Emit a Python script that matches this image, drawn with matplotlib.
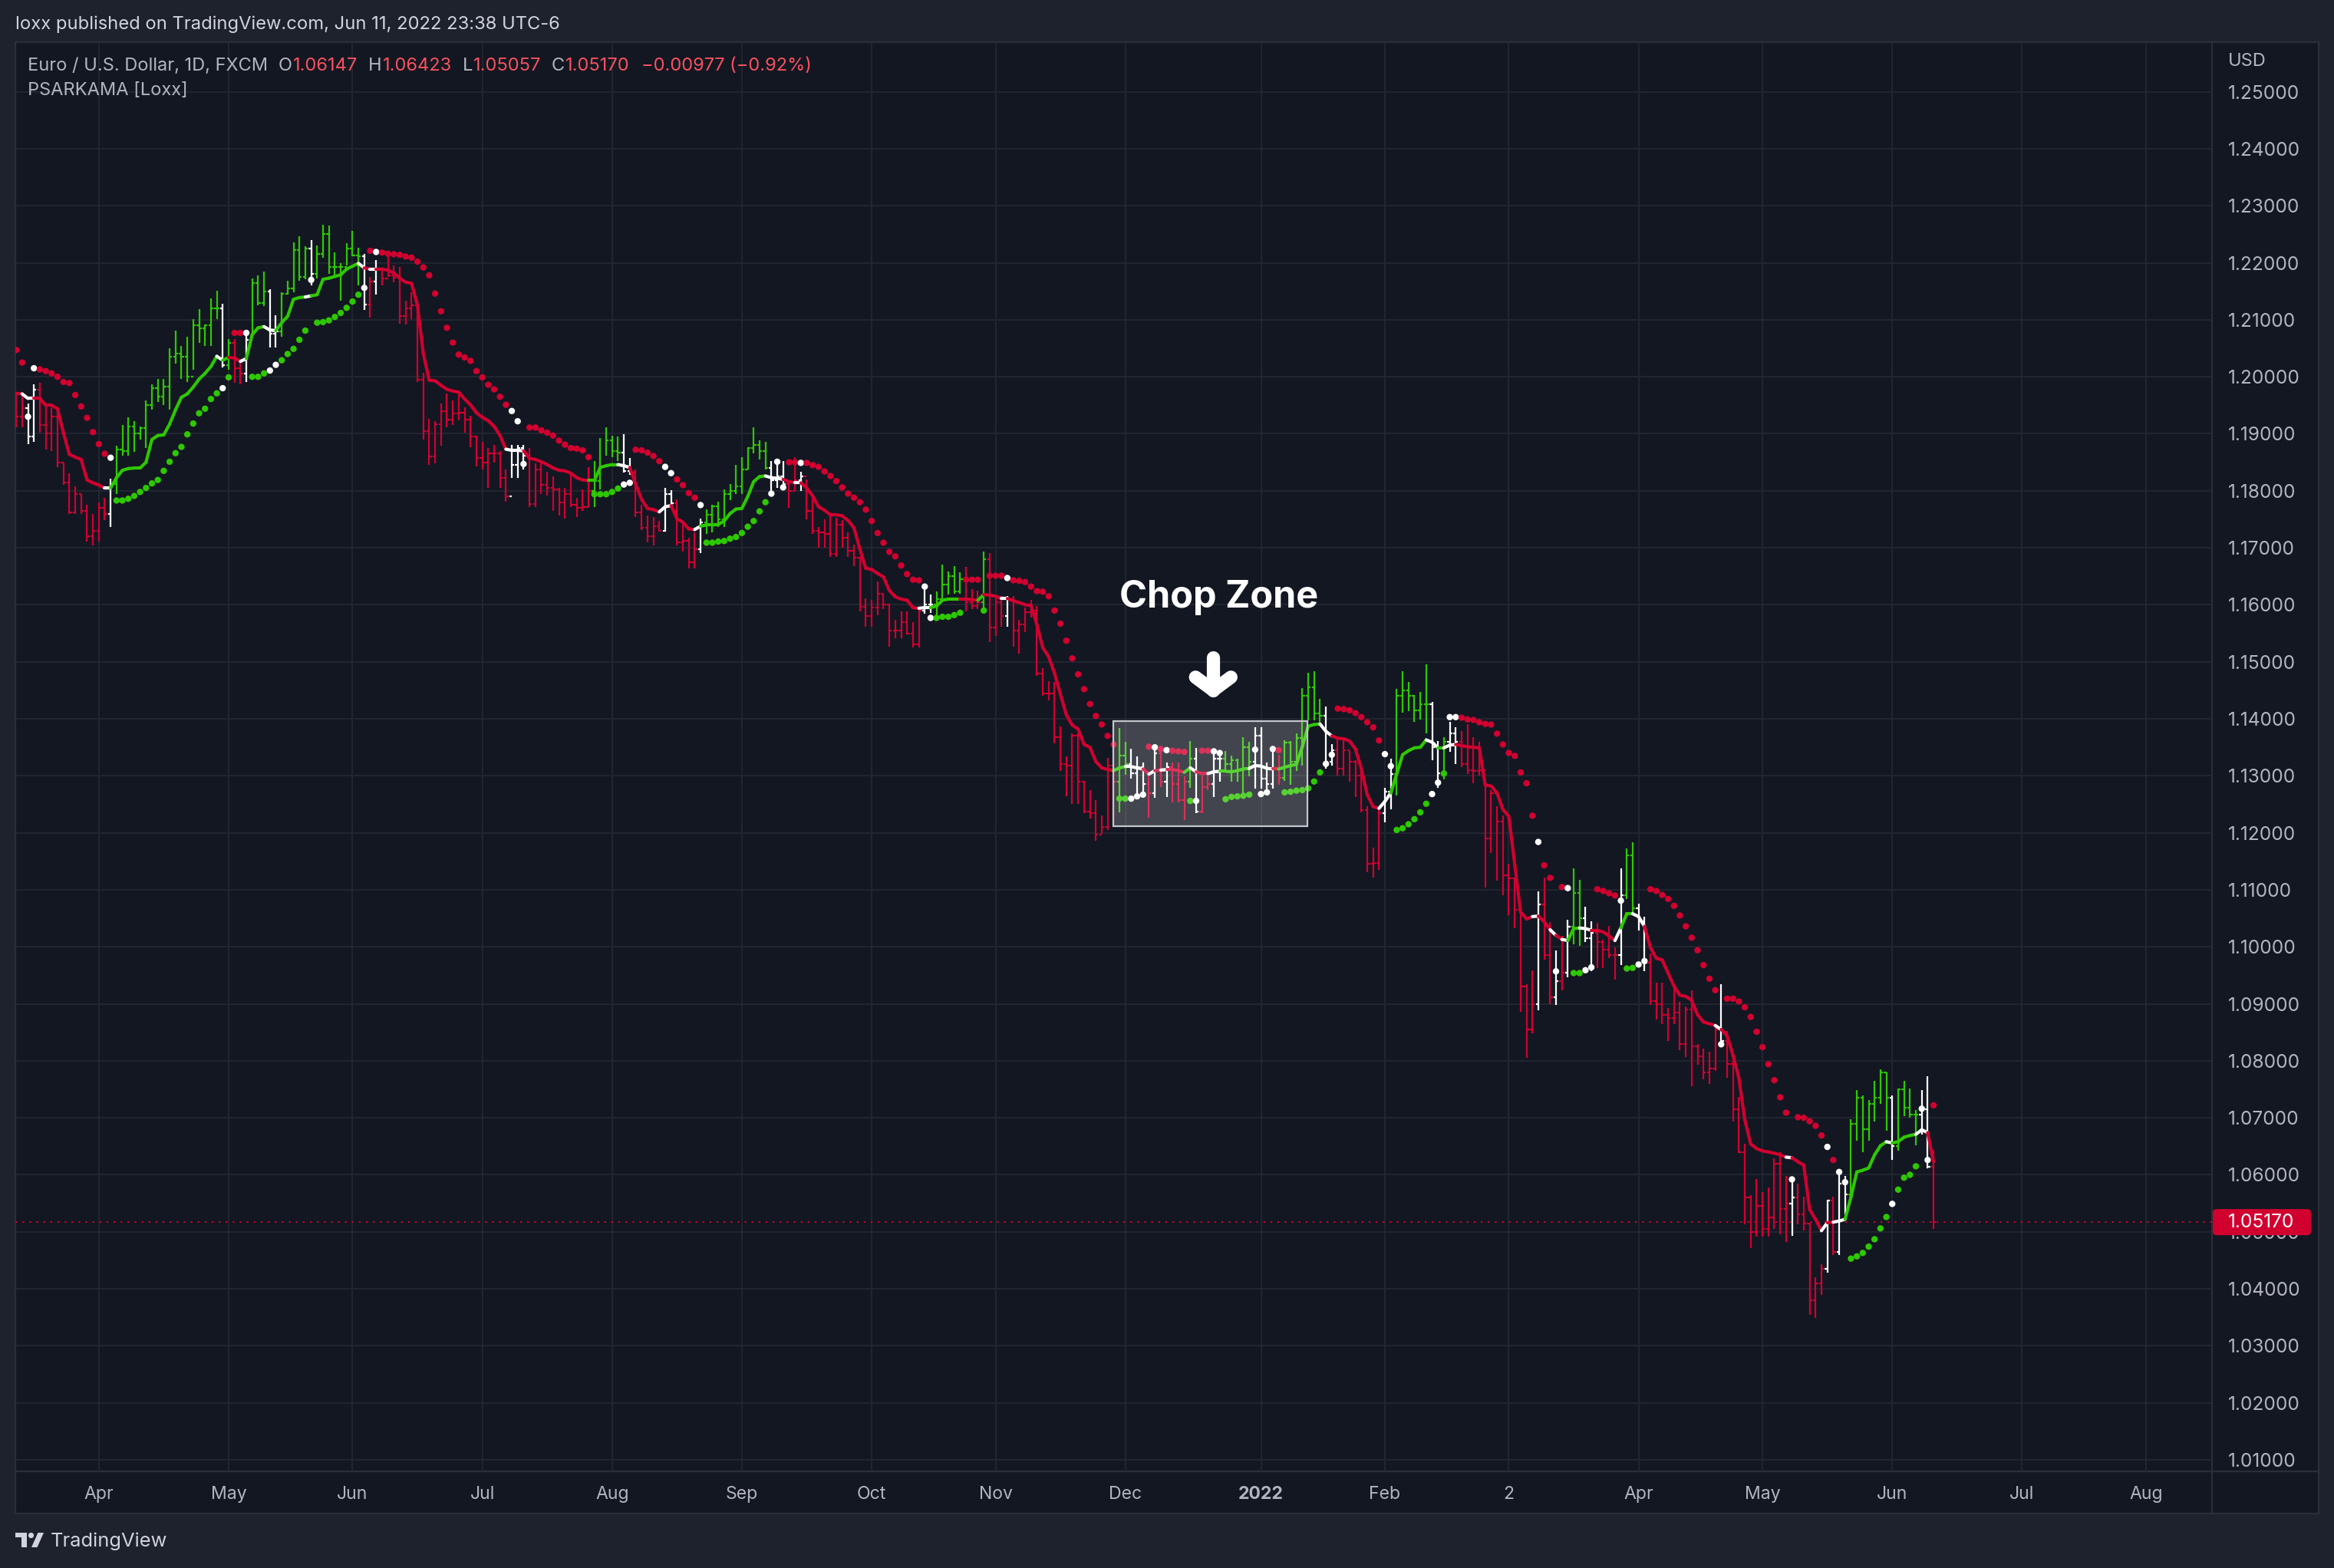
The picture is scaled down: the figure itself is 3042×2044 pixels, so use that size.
"""
EURUSD daily with the PSARKAMA [Loxx] overlay, TradingView dark snapshot style
"""
import matplotlib
matplotlib.use('Agg')

import numpy as np
import matplotlib.pyplot as plt
from matplotlib.collections import LineCollection
from matplotlib.patches import Rectangle, FancyBboxPatch, Polygon, Circle

plt.rcParams['font.family'] = ['Inter', 'DejaVu Sans']

# ---------------------------------------------------------------- data
# bar index 0 = 1 Apr 2021, the first bar on the chart is index -14
first_bar = -14

highs = [
    1.1973, 1.1969, 1.1953, 1.1987, 1.1989, 1.1951, 1.1947, 1.1944, 1.1850, 1.1830,
    1.1808, 1.1794, 1.1776, 1.1760, 1.1780, 1.1787, 1.1821, 1.1879, 1.1915, 1.1929,
    1.1922, 1.1913, 1.1958, 1.1987, 1.1996, 1.1996, 1.2050, 1.2081, 1.2054, 1.2070,
    1.2101, 1.2119, 1.2092, 1.2137, 1.2151, 1.2128, 1.2066, 1.2066, 1.2028, 1.2077,
    1.2173, 1.2178, 1.2184, 1.2153, 1.2108, 1.2148, 1.2169, 1.2236, 1.2247, 1.2229,
    1.2240, 1.2231, 1.2267, 1.2265, 1.2218, 1.2200, 1.2234, 1.2256, 1.2227, 1.2216,
    1.2175, 1.2205, 1.2188, 1.2211, 1.2196, 1.2193, 1.2133, 1.2148, 1.2135, 1.2007,
    1.1926, 1.1922, 1.1953, 1.1971, 1.1958, 1.1973, 1.1946, 1.1931, 1.1897, 1.1886,
    1.1875, 1.1881, 1.1870, 1.1837, 1.1881, 1.1881, 1.1881, 1.1875, 1.1848, 1.1850,
    1.1834, 1.1825, 1.1805, 1.1805, 1.1832, 1.1787, 1.1803, 1.1841, 1.1852, 1.1893,
    1.1911, 1.1897, 1.1895, 1.1899, 1.1857, 1.1837, 1.1776, 1.1756, 1.1754, 1.1747,
    1.1805, 1.1801, 1.1785, 1.1745, 1.1718, 1.1727, 1.1751, 1.1767, 1.1776, 1.1781,
    1.1803, 1.1812, 1.1846, 1.1859, 1.1877, 1.1911, 1.1888, 1.1886, 1.1852, 1.1852,
    1.1852, 1.1816, 1.1859, 1.1834, 1.1820, 1.1795, 1.1736, 1.1750, 1.1757, 1.1752,
    1.1748, 1.1727, 1.1705, 1.1684, 1.1611, 1.1609, 1.1641, 1.1620, 1.1602, 1.1573,
    1.1589, 1.1589, 1.1570, 1.1595, 1.1632, 1.1618, 1.1623, 1.1670, 1.1659, 1.1668,
    1.1657, 1.1666, 1.1627, 1.1625, 1.1693, 1.1691, 1.1611, 1.1616, 1.1616, 1.1616,
    1.1573, 1.1595, 1.1609, 1.1598, 1.1489, 1.1466, 1.1464, 1.1386, 1.1334, 1.1375,
    1.1375, 1.1291, 1.1275, 1.1257, 1.1230, 1.1332, 1.1307, 1.1384, 1.1359, 1.1348,
    1.1334, 1.1323, 1.1302, 1.1354, 1.1350, 1.1323, 1.1323, 1.1323, 1.1299, 1.1361,
    1.1349, 1.1306, 1.1303, 1.1347, 1.1342, 1.1344, 1.1335, 1.1330, 1.1368, 1.1359,
    1.1385, 1.1385, 1.1323, 1.1349, 1.1337, 1.1363, 1.1361, 1.1375, 1.1454, 1.1481,
    1.1483, 1.1435, 1.1421, 1.1356, 1.1366, 1.1366, 1.1344, 1.1327, 1.1311, 1.1246,
    1.1174, 1.1246, 1.1279, 1.1330, 1.1452, 1.1483, 1.1464, 1.1442, 1.1447, 1.1495,
    1.1430, 1.1361, 1.1368, 1.1394, 1.1385, 1.1378, 1.1390, 1.1368, 1.1359, 1.1282,
    1.1275, 1.1246, 1.1231, 1.1145, 1.1121, 1.1066, 1.0934, 1.0958, 1.1097, 1.1121,
    1.1044, 1.0994, 1.1019, 1.1047, 1.1138, 1.1118, 1.1070, 1.1045, 1.1042, 1.1013,
    1.1036, 1.0999, 1.1138, 1.1172, 1.1183, 1.1076, 1.1053, 1.0988, 1.0937, 1.0937,
    1.0892, 1.0929, 1.0903, 1.0895, 1.0923, 1.0830, 1.0821, 1.0816, 1.0861, 1.0934,
    1.0852, 1.0810, 1.0736, 1.0655, 1.0564, 1.0592, 1.0570, 1.0578, 1.0629, 1.0640,
    1.0598, 1.0592, 1.0584, 1.0561, 1.0516, 1.0420, 1.0443, 1.0556, 1.0562, 1.0605,
    1.0598, 1.0697, 1.0748, 1.0739, 1.0731, 1.0765, 1.0785, 1.0779, 1.0739, 1.0751,
    1.0765, 1.0751, 1.0714, 1.0748, 1.0773, 1.06423,
]

lows = [
    1.1911, 1.1911, 1.1882, 1.1886, 1.1902, 1.1873, 1.1870, 1.1841, 1.1810, 1.1760,
    1.1760, 1.1760, 1.1711, 1.1704, 1.1711, 1.1749, 1.1736, 1.1794, 1.1861, 1.1861,
    1.1868, 1.1890, 1.1875, 1.1942, 1.1956, 1.1951, 1.1942, 1.2023, 1.1996, 1.1991,
    1.2012, 1.2059, 1.2054, 1.2054, 1.2101, 1.2016, 1.2012, 1.1990, 1.1987, 1.1991,
    1.2072, 1.2126, 1.2124, 1.2052, 1.2052, 1.2070, 1.2144, 1.2148, 1.2169, 1.2171,
    1.2160, 1.2173, 1.2209, 1.2180, 1.2178, 1.2133, 1.2196, 1.2211, 1.2160, 1.2117,
    1.2104, 1.2144, 1.2161, 1.2175, 1.2166, 1.2093, 1.2092, 1.2101, 1.1991, 1.1890,
    1.1846, 1.1848, 1.1879, 1.1911, 1.1915, 1.1924, 1.1902, 1.1877, 1.1843, 1.1837,
    1.1805, 1.1850, 1.1805, 1.1781, 1.1823, 1.1823, 1.1837, 1.1772, 1.1772, 1.1794,
    1.1792, 1.1765, 1.1756, 1.1751, 1.1772, 1.1754, 1.1765, 1.1772, 1.1772, 1.1803,
    1.1861, 1.1859, 1.1852, 1.1832, 1.1828, 1.1754, 1.1731, 1.1709, 1.1704, 1.1729,
    1.1729, 1.1774, 1.1704, 1.1693, 1.1664, 1.1664, 1.1691, 1.1724, 1.1727, 1.1736,
    1.1736, 1.1783, 1.1794, 1.1794, 1.1837, 1.1866, 1.1855, 1.1837, 1.1790, 1.1805,
    1.1805, 1.1770, 1.1800, 1.1800, 1.1750, 1.1725, 1.1700, 1.1700, 1.1684, 1.1684,
    1.1700, 1.1684, 1.1668, 1.1589, 1.1561, 1.1561, 1.1582, 1.1593, 1.1527, 1.1541,
    1.1541, 1.1548, 1.1525, 1.1525, 1.1584, 1.1586, 1.1575, 1.1611, 1.1618, 1.1620,
    1.1620, 1.1589, 1.1593, 1.1593, 1.1584, 1.1534, 1.1545, 1.1561, 1.1561, 1.1527,
    1.1514, 1.1552, 1.1577, 1.1475, 1.1441, 1.1432, 1.1357, 1.1309, 1.1264, 1.1250,
    1.1250, 1.1234, 1.1225, 1.1186, 1.1198, 1.1205, 1.1221, 1.1236, 1.1302, 1.1295,
    1.1270, 1.1268, 1.1227, 1.1262, 1.1280, 1.1263, 1.1253, 1.1253, 1.1222, 1.1279,
    1.1234, 1.1234, 1.1275, 1.1263, 1.1289, 1.1308, 1.1289, 1.1289, 1.1270, 1.1299,
    1.1277, 1.1277, 1.1275, 1.1277, 1.1284, 1.1291, 1.1284, 1.1308, 1.1318, 1.1397,
    1.1397, 1.1394, 1.1313, 1.1318, 1.1301, 1.1301, 1.1289, 1.1263, 1.1236, 1.1131,
    1.1121, 1.1135, 1.1219, 1.1241, 1.1265, 1.1411, 1.1414, 1.1394, 1.1399, 1.1375,
    1.1327, 1.1279, 1.1294, 1.1342, 1.1320, 1.1315, 1.1303, 1.1287, 1.1301, 1.1104,
    1.1164, 1.1116, 1.1090, 1.1056, 1.1032, 1.0886, 1.0805, 1.0848, 1.0888, 1.0977,
    1.0900, 1.0898, 1.0923, 1.0946, 1.1005, 1.1002, 1.1008, 1.0957, 1.0963, 1.0963,
    1.0980, 1.0943, 1.0968, 1.1084, 1.1059, 1.1028, 1.0957, 1.0898, 1.0872, 1.0864,
    1.0835, 1.0864, 1.0818, 1.0807, 1.0756, 1.0793, 1.0768, 1.0759, 1.0782, 1.0830,
    1.0770, 1.0694, 1.0638, 1.0513, 1.0471, 1.0491, 1.0491, 1.0491, 1.0505, 1.0496,
    1.0482, 1.0493, 1.0513, 1.0502, 1.0355, 1.0349, 1.0389, 1.0428, 1.0459, 1.0459,
    1.0530, 1.0556, 1.0660, 1.0640, 1.0660, 1.0694, 1.0725, 1.0677, 1.0626, 1.0643,
    1.0703, 1.0700, 1.0652, 1.0671, 1.0612, 1.05057,
]

closes = [
    1.1930, 1.1945, 1.1895, 1.1978, 1.1915, 1.1900, 1.1930, 1.1850, 1.1815, 1.1762,
    1.1795, 1.1765, 1.1720, 1.1730, 1.1770, 1.1760, 1.1812, 1.1873, 1.1870, 1.1913,
    1.1900, 1.1910, 1.1950, 1.1980, 1.1965, 1.1983, 1.2035, 1.2040, 1.2035, 1.2000,
    1.2090, 1.2085, 1.2090, 1.2120, 1.2120, 1.2020, 1.2060, 1.2015, 1.2005, 1.2065,
    1.2165, 1.2130, 1.2150, 1.2075, 1.2080, 1.2145, 1.2155, 1.2222, 1.2175, 1.2225,
    1.2180, 1.2215, 1.2250, 1.2193, 1.2193, 1.2193, 1.2225, 1.2213, 1.2212, 1.2127,
    1.2167, 1.2190, 1.2172, 1.2178, 1.2174, 1.2107, 1.2120, 1.2125, 1.1995, 1.1905,
    1.1860, 1.1917, 1.1940, 1.1925, 1.1935, 1.1937, 1.1925, 1.1895, 1.1858, 1.1850,
    1.1865, 1.1865, 1.1823, 1.1790, 1.1845, 1.1875, 1.1862, 1.1777, 1.1838, 1.1810,
    1.1805, 1.1802, 1.1780, 1.1795, 1.1775, 1.1770, 1.1772, 1.1800, 1.1817, 1.1843,
    1.1888, 1.1870, 1.1867, 1.1835, 1.1832, 1.1762, 1.1735, 1.1720, 1.1738, 1.1730,
    1.1795, 1.1778, 1.1710, 1.1712, 1.1675, 1.1698, 1.1745, 1.1758, 1.1773, 1.1750,
    1.1795, 1.1800, 1.1808, 1.1838, 1.1875, 1.1880, 1.1870, 1.1840, 1.1818, 1.1825,
    1.1812, 1.1800, 1.1818, 1.1825, 1.1765, 1.1730, 1.1727, 1.1725, 1.1690, 1.1740,
    1.1718, 1.1695, 1.1683, 1.1597, 1.1580, 1.1595, 1.1620, 1.1600, 1.1555, 1.1555,
    1.1570, 1.1550, 1.1530, 1.1590, 1.1600, 1.1600, 1.1610, 1.1635, 1.1650, 1.1623,
    1.1645, 1.1605, 1.1598, 1.1605, 1.1680, 1.1560, 1.1605, 1.1580, 1.1610, 1.1555,
    1.1565, 1.1587, 1.1590, 1.1480, 1.1445, 1.1445, 1.1368, 1.1320, 1.1318, 1.1370,
    1.1290, 1.1237, 1.1235, 1.1197, 1.1210, 1.1318, 1.1290, 1.1335, 1.1320, 1.1305,
    1.1315, 1.1285, 1.1270, 1.1340, 1.1290, 1.1315, 1.1285, 1.1258, 1.1290, 1.1330,
    1.1237, 1.1280, 1.1285, 1.1330, 1.1330, 1.1320, 1.1328, 1.1310, 1.1350, 1.1325,
    1.1370, 1.1295, 1.1285, 1.1312, 1.1296, 1.1358, 1.1325, 1.1367, 1.1440, 1.1455,
    1.1410, 1.1405, 1.1325, 1.1345, 1.1312, 1.1345, 1.1325, 1.1300, 1.1240, 1.1145,
    1.1147, 1.1235, 1.1272, 1.1303, 1.1440, 1.1450, 1.1440, 1.1415, 1.1425, 1.1425,
    1.1350, 1.1305, 1.1360, 1.1375, 1.1360, 1.1320, 1.1310, 1.1308, 1.1310, 1.1190,
    1.1270, 1.1220, 1.1125, 1.1120, 1.1065, 1.0930, 1.0855, 1.0900, 1.1075, 1.0985,
    1.0912, 1.0940, 1.0955, 1.1035, 1.1095, 1.1050, 1.1015, 1.1025, 1.1008, 1.0995,
    1.0985, 1.0985, 1.1090, 1.1160, 1.1067, 1.1045, 1.0972, 1.0905, 1.0900, 1.0880,
    1.0875, 1.0885, 1.0830, 1.0890, 1.0825, 1.0808, 1.0780, 1.0787, 1.0855, 1.0835,
    1.0795, 1.0715, 1.0640, 1.0560, 1.0500, 1.0545, 1.0505, 1.0525, 1.0620, 1.0540,
    1.0550, 1.0560, 1.0530, 1.0515, 1.0380, 1.0410, 1.0435, 1.0555, 1.0465, 1.0585,
    1.0565, 1.0690, 1.0735, 1.0680, 1.0725, 1.0735, 1.0780, 1.0735, 1.0650, 1.0750,
    1.0718, 1.0705, 1.0705, 1.0715, 1.06147, 1.05170,
]

kama = [
    1.1971, 1.1970, 1.1962, 1.1962, 1.1962, 1.1950, 1.1950, 1.1944, 1.1902, 1.1864,
    1.1859, 1.1855, 1.1819, 1.1814, 1.1810, 1.1805, 1.1805, 1.1823, 1.1836, 1.1839,
    1.1840, 1.1840, 1.1850, 1.1890, 1.1897, 1.1898, 1.1917, 1.1942, 1.1964, 1.1970,
    1.1982, 1.1996, 1.2006, 1.2018, 1.2036, 1.2029, 1.2034, 1.2033, 1.2027, 1.2032,
    1.2074, 1.2086, 1.2088, 1.2082, 1.2081, 1.2095, 1.2106, 1.2136, 1.2139, 1.2140,
    1.2142, 1.2144, 1.2171, 1.2173, 1.2176, 1.2179, 1.2189, 1.2194, 1.2199, 1.2191,
    1.2189, 1.2189, 1.2189, 1.2187, 1.2182, 1.2173, 1.2166, 1.2164, 1.2126, 1.2041,
    1.1994, 1.1993, 1.1985, 1.1978, 1.1975, 1.1973, 1.1961, 1.1951, 1.1937, 1.1929,
    1.1923, 1.1913, 1.1897, 1.1873, 1.1871, 1.1871, 1.1870, 1.1857, 1.1855, 1.1851,
    1.1846, 1.1840, 1.1836, 1.1835, 1.1831, 1.1823, 1.1819, 1.1818, 1.1818, 1.1841,
    1.1844, 1.1846, 1.1846, 1.1844, 1.1841, 1.1812, 1.1785, 1.1769, 1.1767, 1.1763,
    1.1772, 1.1774, 1.1751, 1.1745, 1.1733, 1.1732, 1.1738, 1.1740, 1.1740, 1.1741,
    1.1747, 1.1760, 1.1768, 1.1769, 1.1790, 1.1816, 1.1825, 1.1826, 1.1823, 1.1822,
    1.1820, 1.1816, 1.1814, 1.1814, 1.1805, 1.1791, 1.1772, 1.1766, 1.1758, 1.1758,
    1.1756, 1.1748, 1.1735, 1.1698, 1.1664, 1.1662, 1.1655, 1.1649, 1.1625, 1.1614,
    1.1610, 1.1608, 1.1595, 1.1594, 1.1595, 1.1595, 1.1598, 1.1608, 1.1610, 1.1610,
    1.1610, 1.1610, 1.1609, 1.1608, 1.1618, 1.1617, 1.1615, 1.1611, 1.1611, 1.1607,
    1.1604, 1.1600, 1.1599, 1.1566, 1.1525, 1.1509, 1.1480, 1.1443, 1.1407, 1.1389,
    1.1382, 1.1355, 1.1350, 1.1325, 1.1314, 1.1311, 1.1309, 1.1314, 1.1316, 1.1316,
    1.1314, 1.1312, 1.1303, 1.1309, 1.1310, 1.1311, 1.1311, 1.1309, 1.1306, 1.1314,
    1.1307, 1.1304, 1.1304, 1.1307, 1.1308, 1.1308, 1.1307, 1.1309, 1.1312, 1.1313,
    1.1318, 1.1317, 1.1313, 1.1312, 1.1312, 1.1315, 1.1318, 1.1320, 1.1351, 1.1387,
    1.1390, 1.1391, 1.1378, 1.1370, 1.1366, 1.1365, 1.1361, 1.1347, 1.1313, 1.1267,
    1.1246, 1.1243, 1.1255, 1.1270, 1.1303, 1.1337, 1.1344, 1.1349, 1.1350, 1.1363,
    1.1359, 1.1349, 1.1349, 1.1354, 1.1355, 1.1353, 1.1351, 1.1350, 1.1349, 1.1284,
    1.1282, 1.1270, 1.1241, 1.1229, 1.1145, 1.1061, 1.1049, 1.1053, 1.1054, 1.1044,
    1.1030, 1.1020, 1.1013, 1.1011, 1.1032, 1.1033, 1.1032, 1.1029, 1.1029, 1.1026,
    1.1019, 1.1011, 1.1033, 1.1058, 1.1058, 1.1053, 1.1036, 1.0999, 1.0980, 1.0977,
    1.0954, 1.0931, 1.0915, 1.0913, 1.0906, 1.0881, 1.0868, 1.0865, 1.0862, 1.0855,
    1.0844, 1.0810, 1.0770, 1.0697, 1.0654, 1.0646, 1.0642, 1.0640, 1.0638, 1.0635,
    1.0631, 1.0630, 1.0623, 1.0617, 1.0539, 1.0522, 1.0502, 1.0516, 1.0517, 1.0519,
    1.0522, 1.0561, 1.0605, 1.0608, 1.0612, 1.0635, 1.0651, 1.0658, 1.0656, 1.0658,
    1.0666, 1.0669, 1.0671, 1.0679, 1.0674, 1.0623,
]

psar = [
    1.2047, 1.2025, 1.1930, 1.2015, 1.2013, 1.2010, 1.2006, 1.2000, 1.1991, 1.1989,
    1.1968, 1.1948, 1.1928, 1.1903, 1.1882, 1.1865, 1.1858, 1.1783, 1.1783, 1.1786,
    1.1791, 1.1798, 1.1805, 1.1813, 1.1819, 1.1835, 1.1851, 1.1866, 1.1877, 1.1899,
    1.1918, 1.1936, 1.1944, 1.1961, 1.1971, 1.1980, 1.1999, 1.2077, 1.2077, 1.2077,
    1.2000, 1.2000, 1.2006, 1.2011, 1.2021, 1.2029, 1.2040, 1.2049, 1.2065, 1.2081,
    1.2170, 1.2095, 1.2096, 1.2099, 1.2105, 1.2112, 1.2121, 1.2132, 1.2144, 1.2156,
    1.2221, 1.2219, 1.2218, 1.2216, 1.2215, 1.2214, 1.2211, 1.2209, 1.2202, 1.2192,
    1.2178, 1.2146, 1.2115, 1.2086, 1.2060, 1.2039, 1.2034, 1.2028, 1.2010, 1.1999,
    1.1986, 1.1978, 1.1965, 1.1951, 1.1940, 1.1922, 1.1847, 1.1911, 1.1911, 1.1906,
    1.1902, 1.1897, 1.1888, 1.1881, 1.1875, 1.1874, 1.1871, 1.1859, 1.1794, 1.1794,
    1.1794, 1.1798, 1.1804, 1.1811, 1.1814, 1.1872, 1.1871, 1.1867, 1.1861, 1.1852,
    1.1842, 1.1831, 1.1820, 1.1810, 1.1796, 1.1788, 1.1775, 1.1709, 1.1709, 1.1711,
    1.1712, 1.1716, 1.1719, 1.1726, 1.1737, 1.1747, 1.1764, 1.1780, 1.1795, 1.1851,
    1.1806, 1.1850, 1.1850, 1.1849, 1.1849, 1.1845, 1.1842, 1.1834, 1.1826, 1.1817,
    1.1806, 1.1795, 1.1788, 1.1780, 1.1767, 1.1747, 1.1726, 1.1709, 1.1693, 1.1685,
    1.1669, 1.1654, 1.1644, 1.1643, 1.1632, 1.1577, 1.1577, 1.1579, 1.1579, 1.1582,
    1.1586, 1.1644, 1.1644, 1.1644, 1.1590, 1.1651, 1.1651, 1.1651, 1.1647, 1.1643,
    1.1642, 1.1640, 1.1632, 1.1624, 1.1623, 1.1615, 1.1590, 1.1567, 1.1537, 1.1506,
    1.1478, 1.1452, 1.1426, 1.1405, 1.1390, 1.1370, 1.1355, 1.1260, 1.1260, 1.1260,
    1.1264, 1.1267, 1.1351, 1.1350, 1.1347, 1.1345, 1.1344, 1.1343, 1.1342, 1.1256,
    1.1256, 1.1344, 1.1344, 1.1343, 1.1340, 1.1259, 1.1263, 1.1264, 1.1265, 1.1267,
    1.1346, 1.1268, 1.1271, 1.1347, 1.1345, 1.1271, 1.1272, 1.1274, 1.1275, 1.1278,
    1.1290, 1.1306, 1.1321, 1.1337, 1.1418, 1.1417, 1.1415, 1.1410, 1.1403, 1.1394,
    1.1385, 1.1362, 1.1338, 1.1317, 1.1205, 1.1208, 1.1215, 1.1224, 1.1236, 1.1251,
    1.1268, 1.1288, 1.1304, 1.1403, 1.1403, 1.1402, 1.1399, 1.1398, 1.1394, 1.1391,
    1.1390, 1.1374, 1.1355, 1.1340, 1.1335, 1.1306, 1.1287, 1.1230, 1.1184, 1.1143,
    1.1121, 1.0957, 1.1105, 1.1103, 1.0954, 1.0954, 1.0959, 1.0964, 1.1101, 1.1098,
    1.1094, 1.1090, 1.1081, 1.0962, 1.0963, 1.0969, 1.0975, 1.1101, 1.1098, 1.1091,
    1.1084, 1.1072, 1.1055, 1.1036, 1.1016, 1.0994, 1.0968, 1.0944, 1.0924, 1.0829,
    1.0909, 1.0909, 1.0904, 1.0894, 1.0877, 1.0851, 1.0824, 1.0794, 1.0766, 1.0736,
    1.0709, 1.0592, 1.0701, 1.0700, 1.0694, 1.0686, 1.0669, 1.0649, 1.0626, 1.0605,
    1.0587, 1.0453, 1.0457, 1.0463, 1.0474, 1.0487, 1.0506, 1.0526, 1.0549, 1.0574,
    1.0595, 1.0600, 1.0615, 1.0716, 1.0626, 1.0722,
]

# r = short, g = long, w = neutral (colours bars, KAMA and the SAR dot)
trend = (
    "rrwwrrrrrr" "rrrrrrwggg" "gggggggggg" "gggggwgrrw" "gggwwggggg"
    "wggggggggw" "rwrrrrrrrr" "rrrrrrrrrr" "rrrrwwwrrr" "rrrrrrrrgg"
    "gggwwrrrrr" "wwrrrrwggg" "ggggggggww" "wrrwrrrrrr" "rrrrrrrrrr"
    "rrrrwwgggg" "grrrgrrrwr" "rrrrrrrrrr" "rrrrrrrggw" "wwrwrwrrrg"
    "wrrwwggggg" "wwwwrggggg" "ggwwrrrrrr" "rrwwgggggg" "wwgwwrrrrr"
    "rrrrrrrrwr" "rwrwggwwrr" "rrwggwwrrr" "rrrrrrrrrw" "rrrrrrrrrr"
    "rwrrrrrwrw" "wgggggggwg" "gggwwr"
)

month_pos = [0, 22, 43, 65, 87, 109, 131, 152, 174, 197, 218, 239, 261, 282, 304, 326, 347]
month_lab = ['Apr', 'May', 'Jun', 'Jul', 'Aug', 'Sep', 'Oct', 'Nov', 'Dec',
             '2022', 'Feb', '2', 'Apr', 'May', 'Jun', 'Jul', 'Aug']
price_ticks = np.round(np.arange(1.01, 1.2501, 0.01), 2)

# "Chop Zone" drawing (bar index / price)
chop_box = (171.9, 204.9, 1.1211, 1.1396)
chop_label = (189.9, 1.1612)
chop_arrow = (188.9, 1.1508, 1.1450, 3.0, 0.0023)

assert len(highs) == len(lows) == len(closes) == len(kama) == len(psar) == len(trend)

# ---------------------------------------------------------------- style
W, H, DPI = 3042, 2044, 200
FRAME = '#1e222d'
BG = '#131722'
BORDER = '#2a2e39'
GRID = '#242834'
TXT = '#b2b5be'
RED = '#d2002f'
GREEN = '#2ec800'
WHITE = '#ffffff'
LRED = '#f7525f'
colmap = {'r': RED, 'g': GREEN, 'w': WHITE}

x = np.arange(first_bar, first_bar + len(closes))
opens = [closes[0]] + closes[:-1]
cols = [colmap[s] for s in trend]

fig = plt.figure(figsize=(W / DPI, H / DPI), dpi=DPI, facecolor=FRAME)

# background panes in pixel coordinates
bg = fig.add_axes([0, 0, 1, 1], zorder=0)
bg.set_xlim(0, W)
bg.set_ylim(H, 0)
bg.axis('off')
bg.add_patch(Rectangle((20, 55), 3002, 1918, fc=BG, ec=BORDER, lw=0.8))
bg.plot([2883, 2883], [55, 1973], color=BORDER, lw=0.8)
bg.plot([20, 3022], [1918, 1918], color=BORDER, lw=0.8)

# main chart
ax = fig.add_axes([20 / W, 1 - 1918 / H, (2883 - 20) / W, (1918 - 55) / H], zorder=1)
ax.set_facecolor('none')
ax.set_xlim(-14.15, 358.2)
ax.set_ylim(1.00798, 1.2587)
for s in ax.spines.values():
    s.set_visible(False)

ax.set_yticks(price_ticks)
ax.set_yticklabels([f'{p:.5f}' for p in price_ticks])
ax.yaxis.tick_right()
ax.tick_params(axis='y', length=0, pad=7.4, labelsize=8.8, labelcolor=TXT)
ax.set_xticks(month_pos)
ax.set_xticklabels(month_lab)
ax.tick_params(axis='x', length=0, pad=7.0, labelsize=8.3, labelcolor=TXT)
ax.get_xticklabels()[month_lab.index('2022')].set_fontweight('bold')
ax.grid(True, color=GRID, lw=0.6)
ax.set_axisbelow(True)

# OHLC bars
ax.vlines(x, lows, highs, colors=cols, lw=0.8, zorder=2)
ax.hlines(opens, x - 0.42, x, colors=cols, lw=0.8, zorder=2)
ax.hlines(closes, x, x + 0.42, colors=cols, lw=0.8, zorder=2)

# KAMA line, coloured per segment
segs = [[(x[i - 1], kama[i - 1]), (x[i], kama[i])] for i in range(1, len(x))]
lc = LineCollection(segs, colors=cols[1:], lw=1.5, capstyle='round', zorder=3)
ax.add_collection(lc)

# PSAR dots
ax.scatter(x, psar, c=cols, s=9, lw=0, zorder=4)

# last price line
ax.axhline(closes[-1], color=RED, lw=0.7, ls=(0, (1.2, 3.5)), zorder=1.5)

# chop zone drawing
x0, x1, y0, y1 = chop_box
ax.add_patch(Rectangle((x0, y0), x1 - x0, y1 - y0, fc=(1, 1, 1, 0.2),
                       ec='#c4c6cc', lw=0.8, zorder=5))
ax.text(chop_label[0], chop_label[1], 'Chop Zone', color=WHITE, fontsize=17.5,
        fontweight='bold', ha='center', va='center', zorder=6)
ax_x, a_top, a_tip, a_w, a_h = chop_arrow
ax.plot([ax_x, ax_x], [a_top, a_tip], color=WHITE, lw=6.2,
        solid_capstyle='round', zorder=6)
ax.plot([ax_x - a_w, ax_x, ax_x + a_w], [a_tip + a_h, a_tip, a_tip + a_h],
        color=WHITE, lw=6.2, solid_capstyle='round', solid_joinstyle='round', zorder=6)

# overlay for header, legend, price tag and footer
ov = fig.add_axes([0, 0, 1, 1], zorder=3)
ov.set_xlim(0, W)
ov.set_ylim(H, 0)
ov.axis('off')

ov.text(20, 32, 'loxx published on TradingView.com, Jun 11, 2022 23:38 UTC-6',
        color='#d1d4dc', fontsize=8.55, ha='left', va='center')

chg = closes[-1] - closes[-2]
pct = chg / closes[-2] * 100
fmt = lambda v: f'{v:.5f}'.replace('-', '\u2212')
t = ov.text(36, 86, 'Euro / U.S. Dollar, 1D, FXCM', color=TXT, fontsize=8.5,
            ha='left', va='center')
pieces = [('O', TXT, 5.0), (fmt(opens[-1]), LRED, 0.3),
          ('H', TXT, 5.0), (fmt(highs[-1]), LRED, 0.3),
          ('L', TXT, 5.0), (fmt(lows[-1]), LRED, 0.3),
          ('C', TXT, 5.0), (fmt(closes[-1]), LRED, 0.3),
          (f'{fmt(chg)} ({pct:.2f}%)'.replace('-', '\u2212'), LRED, 5.5)]
for s, c, gap in pieces:
    t = ov.annotate(s, xy=(1, 0), xycoords=t, xytext=(gap, 0),
                    textcoords='offset points', color=c, fontsize=8.5,
                    ha='left', va='bottom')
ov.text(36, 118, 'PSARKAMA [Loxx]', color=TXT, fontsize=8.5, ha='left', va='center')
ov.text(2904, 80, 'USD', color=TXT, fontsize=8.5, ha='left', va='center')

# price tag on the axis
y_disp = ax.transData.transform((0, closes[-1]))[1]
y_pix = H - y_disp
ov.add_patch(FancyBboxPatch((2884, y_pix - 17), 128, 34,
                            boxstyle='round,pad=0,rounding_size=5', fc=RED, ec='none'))
ov.text(2904, y_pix, fmt(closes[-1]), color=WHITE, fontsize=8.8, ha='left', va='center')

# footer logo
LOGO = '#d1d4dc'
ov.add_patch(Rectangle((20, 1998), 15, 6, fc=LOGO, ec='none'))
ov.add_patch(Rectangle((28, 1998), 7, 19, fc=LOGO, ec='none'))
ov.add_patch(Circle((40.5, 2001.5), 3.6, fc=LOGO, ec='none'))
ov.add_patch(Polygon([(41, 2017), (48.5, 2017), (57, 1998), (49.5, 1998)], fc=LOGO, ec='none'))
ov.text(66, 2009, 'TradingView', color=LOGO, fontsize=9.2, ha='left', va='center')

fig.savefig('out.png', dpi=DPI, facecolor=FRAME)
